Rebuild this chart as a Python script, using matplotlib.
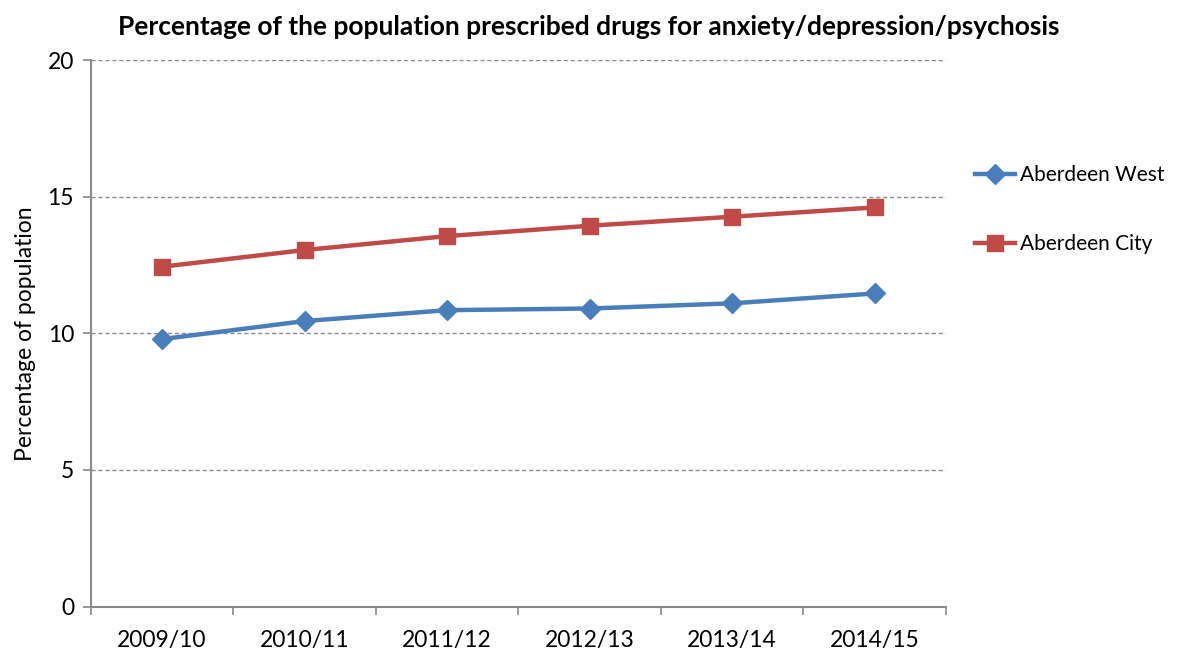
import matplotlib
matplotlib.use("Agg")
import matplotlib.pyplot as plt

years = ["2009/10", "2010/11", "2011/12", "2012/13", "2013/14", "2014/15"]
aberdeen_west = [9.79, 10.45, 10.85, 10.91, 11.10, 11.46]
aberdeen_city = [12.44, 13.05, 13.56, 13.94, 14.27, 14.61]

plt.rcParams['font.family'] = ['Lato', 'DejaVu Sans']

fig = plt.figure(figsize=(11.78, 6.54), dpi=100)
ax = fig.add_axes([0.077, 0.0725, 0.726, 0.8355])

x = list(range(len(years)))
blue = "#4a7ebb"
red = "#be4b48"
ax.plot(x, aberdeen_west, color=blue, lw=3.2, marker='D', markersize=10.5,
        label="Aberdeen West", zorder=3)
ax.plot(x, aberdeen_city, color=red, lw=3.2, marker='s', markersize=12,
        label="Aberdeen City", zorder=3)

ax.set_xlim(-0.5, len(years) - 0.5)
ax.set_ylim(0, 20)
ax.set_yticks([0, 5, 10, 15, 20])
ax.set_xticks(x)
ax.set_xticklabels(years, fontsize=16.5)
ax.set_xticks([i - 0.5 for i in range(len(years) + 1)], minor=True)
ax.tick_params(axis='x', which='major', length=0, pad=17)
ax.tick_params(axis='x', which='minor', length=6, width=1.2, color='#888888', direction='out')
ax.tick_params(axis='y', length=6, width=1.2, color='#888888', labelsize=16.5, pad=6)

for v in [5, 10, 15, 20]:
    ax.axhline(v, color='#8c8c8c', lw=1, ls=(0, (3, 2)), zorder=1)

for s in ['top', 'right']:
    ax.spines[s].set_visible(False)
for s in ['left', 'bottom']:
    ax.spines[s].set_color('#888888')
    ax.spines[s].set_linewidth(1.5)

ax.set_ylabel("Percentage of population", fontsize=16.5, labelpad=8)
fig.text(0.5, 0.958, "Percentage of the population prescribed drugs for anxiety/depression/psychosis",
         ha='center', va='center', fontsize=19, fontweight='bold')

leg = ax.legend(loc='upper left', bbox_to_anchor=(1.034, 0.808), frameon=False,
                fontsize=15, handlelength=1.9, labelspacing=2.35, handletextpad=0.25,
                borderpad=0, borderaxespad=0)

fig.savefig("out.png", dpi=100)
